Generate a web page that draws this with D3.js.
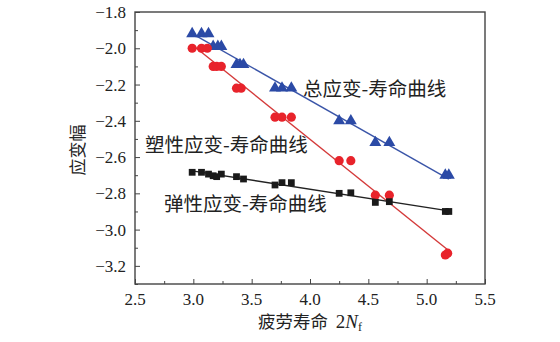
<!DOCTYPE html>
<html>
<head>
<meta charset="utf-8">
<script src="https://cdn.jsdelivr.net/npm/d3@7"></script>
<style>
  body { margin: 0; background: #fff; }
  svg { display: block; }
</style>
</head>
<body>
<script>
// 疲劳寿命 (log 2Nf) 与应变幅 (log) 数据
const totalX   = [2.99, 3.07, 3.13, 3.17, 3.21, 3.24, 3.37, 3.40, 3.43, 3.70, 3.76, 3.84, 4.25, 4.35, 4.56, 4.68, 5.16, 5.19]
const totalY   = [-1.92, -1.92, -1.92, -1.99, -1.99, -1.99, -2.09, -2.09, -2.09, -2.22, -2.22, -2.22, -2.40, -2.40, -2.52, -2.52, -2.70, -2.70]
const plasticX = [2.99, 3.07, 3.12, 3.17, 3.20, 3.24, 3.37, 3.41, 3.70, 3.76, 3.84, 4.25, 4.35, 4.56, 4.68, 5.16, 5.18]
const plasticY = [-2.00, -2.00, -2.00, -2.10, -2.10, -2.10, -2.22, -2.22, -2.38, -2.38, -2.38, -2.62, -2.62, -2.81, -2.81, -3.14, -3.13]
const elasticX = [2.99, 3.07, 3.13, 3.17, 3.20, 3.24, 3.37, 3.43, 3.70, 3.76, 3.84, 4.25, 4.35, 4.56, 4.68, 5.16, 5.19]
const elasticY = [-2.684, -2.684, -2.694, -2.703, -2.708, -2.694, -2.708, -2.721, -2.754, -2.741, -2.741, -2.800, -2.797, -2.850, -2.846, -2.900, -2.900]

const xTicks = [2.5, 3.0, 3.5, 4.0, 4.5, 5.0, 5.5]
const yTicks = [-3.2, -3.0, -2.8, -2.6, -2.4, -2.2, -2.0, -1.8]

const w = 560, h = 342
const box = {left: 135, right: 485, top: 12, bottom: 284}

const svg = d3.select("body").append("svg")
    .attr("width", w)
    .attr("height", h)

const x = d3.scaleLinear().domain([2.5, 5.5]).range([box.left, box.right])
const y = d3.scaleLinear().domain([-3.3, -1.8]).range([box.bottom, box.top])

const fmt = v => d3.format(".1f")(v).replace("-", "\u2212")
const serif = "'Liberation Serif', serif"
const cjk = "'Noto Sans CJK SC', sans-serif"

// 坐标轴 (刻度朝内)
let xAxis = svg.append("g")
    .attr("transform", `translate(0,${box.bottom})`)
    .call(d3.axisBottom(x).tickValues(d3.range(2.5, 5.51, 0.25)).tickSize(-3).tickFormat(""))
xAxis.selectAll(".tick line").filter(d => xTicks.some(t => Math.abs(t - d) < 1e-6)).attr("y2", -5)
xAxis.selectAll(".domain").remove()
svg.append("g")
    .attr("transform", `translate(0,${box.bottom})`)
    .selectAll("text").data(xTicks).enter().append("text")
        .attr("x", d => x(d))
        .attr("y", 21)
        .attr("text-anchor", "middle")
        .style("font", `17px ${serif}`)
        .attr("fill", "#222")
        .text(d => d.toFixed(1))

let yAxis = svg.append("g")
    .attr("transform", `translate(${box.left},0)`)
    .call(d3.axisLeft(y).tickValues(d3.range(-3.3, -1.79, 0.1)).tickSize(-3).tickFormat(""))
yAxis.selectAll(".tick line").filter(d => yTicks.some(t => Math.abs(t - d) < 1e-6)).attr("x2", 5)
yAxis.selectAll(".domain").remove()
svg.append("g")
    .selectAll("text").data(yTicks).enter().append("text")
        .attr("x", box.left - 9)
        .attr("y", d => y(d) + 6)
        .attr("text-anchor", "end")
        .style("font", `17px ${serif}`)
        .attr("fill", "#222")
        .text(d => fmt(d))

svg.selectAll(".tick line").attr("stroke", "#444").attr("stroke-width", 1)

// 外框
svg.append("rect")
    .attr("x", box.left)
    .attr("y", box.top)
    .attr("width", box.right - box.left)
    .attr("height", box.bottom - box.top)
    .attr("fill", "none")
    .attr("stroke", "#444")
    .attr("stroke-width", 1.4)

// 最小二乘拟合直线
function fit(xs, ys) {
    let mx = d3.mean(xs), my = d3.mean(ys)
    let sxy = d3.sum(xs, (v, i) => (v - mx) * (ys[i] - my))
    let sxx = d3.sum(xs, v => (v - mx) * (v - mx))
    let k = sxy / sxx
    let x0 = d3.min(xs), x1 = d3.max(xs)
    return [[x0, my + k * (x0 - mx)], [x1, my + k * (x1 - mx)]]
}

const series = [
    {xs: totalX, ys: totalY, line: "#3a55a8", fill: "#2b4aa6", symbol: d3.symbolTriangle, size: 62},
    {xs: plasticX, ys: plasticY, line: "#d43a3a", fill: "#e8232b", symbol: d3.symbolCircle, size: 66},
    {xs: elasticX, ys: elasticY, line: "#222", fill: "#1a1a1a", symbol: d3.symbolSquare, size: 46},
]

series.forEach(s => {
    let pts = fit(s.xs, s.ys)
    svg.append("line")
        .attr("x1", x(pts[0][0])).attr("y1", y(pts[0][1]))
        .attr("x2", x(pts[1][0])).attr("y2", y(pts[1][1]))
        .attr("stroke", s.line)
        .attr("stroke-width", 1.4)
    svg.append("g").selectAll("path")
        .data(s.xs.map((v, i) => [v, s.ys[i]]))
        .enter()
        .append("path")
            .attr("d", d3.symbol().type(s.symbol).size(s.size))
            .attr("transform", d => `translate(${x(d[0])},${y(d[1])})`)
            .attr("fill", s.fill)
})

// 曲线标注
const notes = [
    {text: "总应变-寿命曲线", x: 303, y: 96},
    {text: "塑性应变-寿命曲线", x: 145, y: 152},
    {text: "弹性应变-寿命曲线", x: 164, y: 211},
]
svg.append("g").selectAll("text")
    .data(notes)
    .enter()
    .append("text")
        .attr("x", d => d.x)
        .attr("y", d => d.y)
        .style("font", `19.5px ${cjk}`)
        .attr("fill", "#222")
        .text(d => d.text)

// 轴标题
svg.append("text")
    .attr("transform", `translate(78,150) rotate(-90)`)
    .attr("text-anchor", "middle")
    .attr("dy", "0.35em")
    .style("font", `17px ${cjk}`)
    .attr("fill", "#222")
    .text("应变幅")

let xt = svg.append("text")
    .attr("x", 310)
    .attr("y", 328)
    .attr("text-anchor", "middle")
    .attr("fill", "#222")
    .style("font", `17.5px ${cjk}`)
xt.append("tspan").text("疲劳寿命\u00a0\u00a0")
xt.append("tspan").style("font", `19px ${serif}`).text("2")
xt.append("tspan").style("font", `italic 19px ${serif}`).text("N")
xt.append("tspan").style("font", `12px ${serif}`).attr("dy", 3).text("f")
</script>
</body>
</html>
